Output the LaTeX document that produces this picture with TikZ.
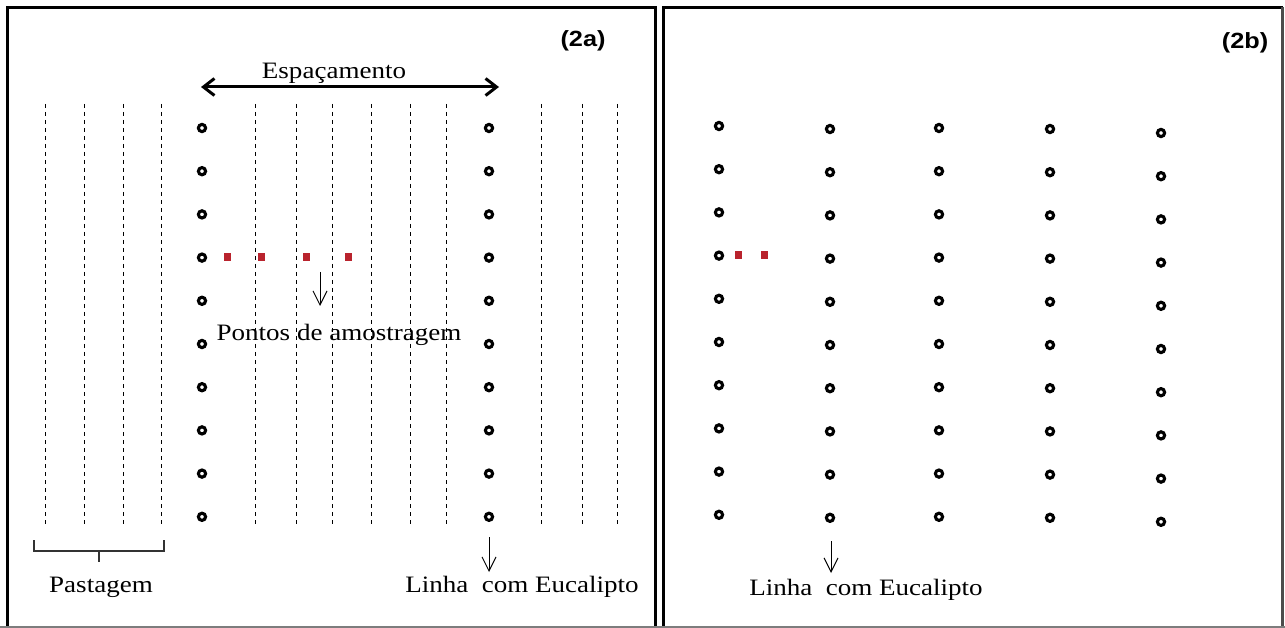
\documentclass[tikz,border=0pt]{standalone}
\usepackage{fontspec}
\setmainfont{Liberation Serif}
\newfontfamily\labelfont{Liberation Sans}
\usetikzlibrary{arrows.meta}
\definecolor{samplered}{RGB}{185,35,45}
\definecolor{edgegray}{RGB}{125,125,125}
\newcommand\stretched[1]{\scalebox{1.15}[1]{#1}}

\begin{document}
\begin{tikzpicture}[x=1pt,y=-1pt,
  tree/.style={circle,draw=black,line width=3.1pt,minimum size=7.2pt,inner sep=0pt},
  samplept/.style={rectangle,fill=samplered,minimum width=7pt,minimum height=8pt,inner sep=0pt},
  pasturerow/.style={dash pattern=on 4pt off 4pt,line width=0.9pt},
  caption/.style={font=\fontsize{23.5}{27}\selectfont,anchor=base,inner sep=0pt},
  tagbold/.style={font=\labelfont\bfseries\fontsize{22}{26}\selectfont,anchor=base,inner sep=0pt},
  pointer/.style={line width=1pt,-{Straight Barb[length=14pt,width=14pt]}},
  span/.style={line width=3pt,{Straight Barb[length=11pt,width=17pt]}-{Straight Barb[length=11pt,width=17pt]}},
  frame/.style={line width=3.5pt,line join=miter}]

\useasboundingbox (0,0) rectangle (1285,628);
\fill[white] (0,0) rectangle (1285,628);

% panel frames
\draw[frame] (7.5,628) -- (7.5,7.5) -- (655.5,7.5) -- (655.5,628);
\draw[frame] (663.5,628) -- (663.5,7.5) -- (1282.5,7.5);
\draw[line width=2.5pt,black!70] (1282.5,7.5) -- (1282.5,628);
\draw[line width=2pt,edgegray] (0,627) -- (1285,627);

% ---------------- panel (2a): silvopastoral strip ----------------
\node[tagbold] (tagA) at (583,47) {\stretched{(2a)}};

% pasture rows (dashed)
\foreach \x in {45,84,123,161,255,296,332,371,410,446,541,582,617}
  \draw[pasturerow] (\x,104) -- (\x,527);

% two eucalyptus rows
\foreach \i in {1,...,10} {
  \node[tree] (A1-\i) at (202,{128+43.2*(\i-1)}) {};
  \node[tree] (A2-\i) at (489,{128+43.2*(\i-1)}) {};
}

% spacing between tree rows
\node[caption] (spacing) at (334,79) {\stretched{Espaçamento}};
\coordinate (spanL) at (201,87);
\coordinate (spanR) at (499,87);
\draw[span] (spanL) -- (spanR);

% sampling points
\foreach \x [count=\k] in {227,261,306,348}
  \node[samplept] (sA\k) at (\x,257) {};

\coordinate (ptA) at (320,272);
\coordinate (ptB) at (320,306);
\draw[pointer] (ptA) -- (ptB);
\node[caption] (pontos) at (339,340) {\stretched{Pontos de amostragem}};

% pasture bracket
\draw[line width=1.3pt,black!80] (34,540) -- (34,551) -- (164,551) -- (164,540);
\draw[line width=1.3pt,black!80] (99,551) -- (99,562);
\node[caption] (pasture) at (101,592) {\stretched{Pastagem}};

% eucalyptus line label
\coordinate (lnA) at (489,537);
\coordinate (lnB) at (489,572);
\draw[pointer] (lnA) -- (lnB);
\node[caption] (lineA) at (522,592) {\stretched{Linha\ \ com Eucalipto}};

% ---------------- panel (2b): eucalyptus stand ----------------
\node[tagbold] (tagB) at (1245,49) {\stretched{(2b)}};

\foreach \x/\y [count=\c] in {719/126,830/129,939/128,1050/129,1161/133}
  \foreach \i in {1,...,10}
    \node[tree] (B\c-\i) at (\x,{\y+43.2*(\i-1)}) {};

\node[samplept] (sB1) at (738,255) {};
\node[samplept] (sB2) at (764,255) {};

\coordinate (lnC) at (831,541);
\coordinate (lnD) at (831,573);
\draw[pointer] (lnC) -- (lnD);
\node[caption] (lineB) at (866,595) {\stretched{Linha\ \ com Eucalipto}};

\end{tikzpicture}
\end{document}
